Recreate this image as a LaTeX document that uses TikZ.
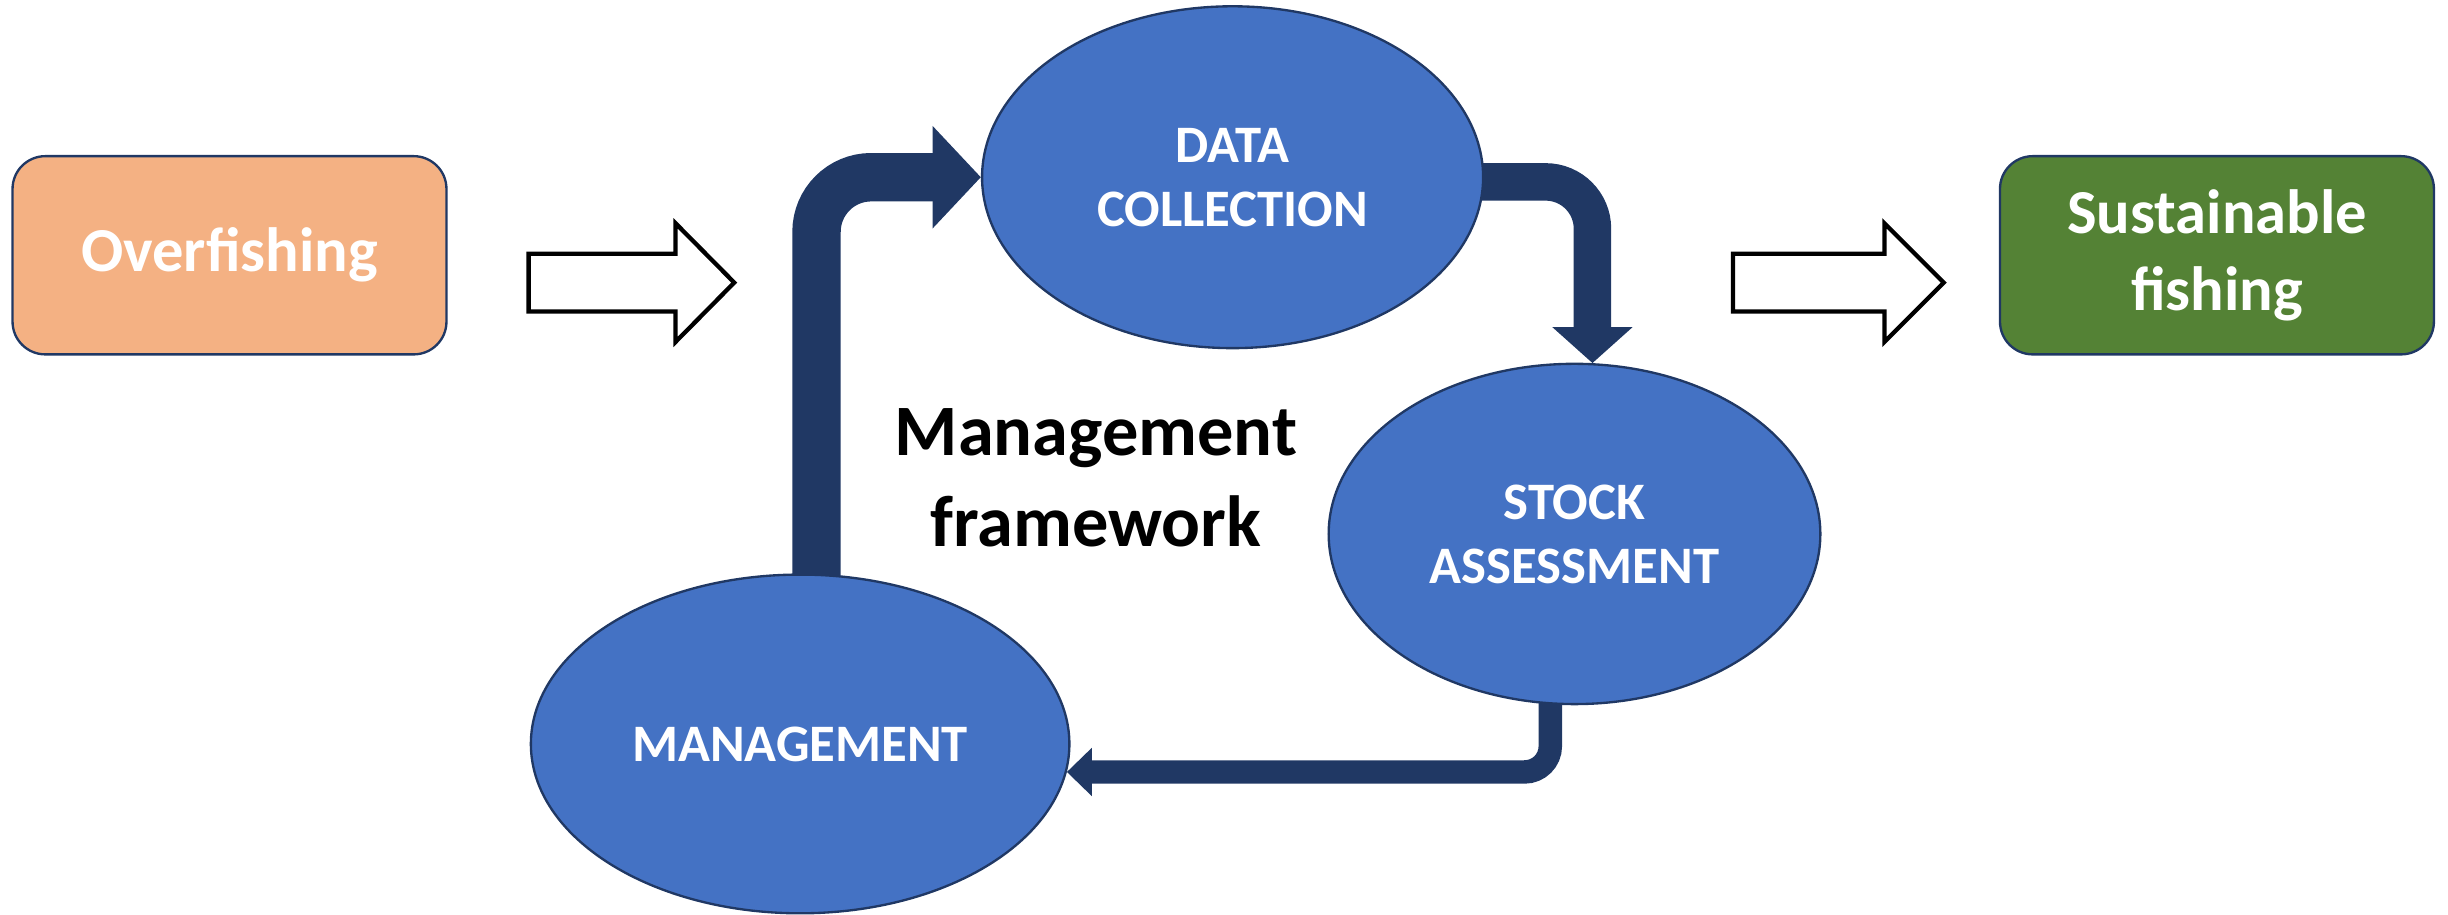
\documentclass[tikz,border=0pt]{standalone}
\usepackage{fontspec}
\setmainfont{Carlito}
\usetikzlibrary{arrows.meta,shapes.geometric}
\definecolor{navy}{HTML}{203864}
\definecolor{bluefill}{HTML}{4472C4}
\definecolor{orangefill}{HTML}{F4B183}
\definecolor{greenfill}{HTML}{548235}
\begin{document}
\begin{tikzpicture}[x=0.02cm,y=-0.02cm,
  box/.style={draw=navy, line width=0.03cm, rounded corners=0.42cm,
    minimum width=5.56cm, minimum height=2.54cm, align=center, text=white,
    inner sep=0pt, font=\fontsize{22.8}{28.2}\selectfont\bfseries},
  stage/.style={ellipse, draw=navy, fill=bluefill, line width=0.03cm,
    text=white, align=center, inner sep=0pt,
    font=\fontsize{19.2}{23.3}\selectfont\bfseries},
  band/.style={draw=navy, line cap=butt},
  hollow/.style={draw=black, fill=white, line width=0.055cm, line join=miter}
]
\useasboundingbox (0,0) rectangle (1568,586);

% side boxes
\node[box, fill=orangefill] (over) at (147,163.5) {Overfishing};
\node[box, fill=greenfill] (sust) at (1420,163.5) {Sustainable\\fishing};

% stage ellipses (positions only, drawn later on top)
\path (789.5,113.5) coordinate (dcc);
\path (1008.5,342) coordinate (sac);
\path (512.5,476.5) coordinate (mgc);
\node[stage, minimum width=6.42cm, minimum height=4.38cm, draw=none, fill=none] (dc0) at (dcc) {};
\node[stage, minimum width=6.30cm, minimum height=4.36cm, draw=none, fill=none] (sa0) at (sac) {};
\node[stage, minimum width=6.90cm, minimum height=4.34cm, draw=none, fill=none] (mg0) at (mgc) {};

% cycle connectors
\draw[band, line width=0.62cm, rounded corners=0.70cm,
  -{Triangle[length=0.62cm,width=1.28cm]}]
  ([xshift=0.21cm,yshift=-0.3cm]mg0.north) |- (dc0.west);
\draw[band, line width=0.48cm, rounded corners=0.60cm,
  -{Triangle[length=0.46cm,width=1.0cm]}]
  ([yshift=-0.06cm,xshift=-0.3cm]dc0.east) -| (sa0.84);
\draw[band, line width=0.30cm, rounded corners=0.33cm,
  -{Triangle[length=0.32cm,width=0.6cm]}]
  ([xshift=-0.31cm,yshift=0.3cm]sa0.south) |- (mg0.-6.2);

% ellipses on top
\node[stage, minimum width=6.42cm, minimum height=4.38cm] (dc) at (dcc) {DATA\\COLLECTION};
\node[stage, minimum width=6.30cm, minimum height=4.36cm] (sa) at (sac) {STOCK\\ASSESSMENT};
\node[stage, minimum width=6.90cm, minimum height=4.34cm] (mg) at (mgc) {MANAGEMENT};

% centre label
\node[align=center, inner sep=0pt, font=\fontsize{26.4}{33}\selectfont\bfseries]
  (frame) at (702,306) {Management\\framework};

% hollow block arrows
\draw[hollow] (338.6,162.5) -- (432.7,162.5) -- (432.7,143) -- (470.3,181)
  -- (432.7,219) -- (432.7,199.5) -- (338.6,199.5) -- cycle;
\draw[hollow] (1110,162.5) -- (1207,162.5) -- (1207,143) -- (1245,181)
  -- (1207,219) -- (1207,199.5) -- (1110,199.5) -- cycle;
\end{tikzpicture}
\end{document}
